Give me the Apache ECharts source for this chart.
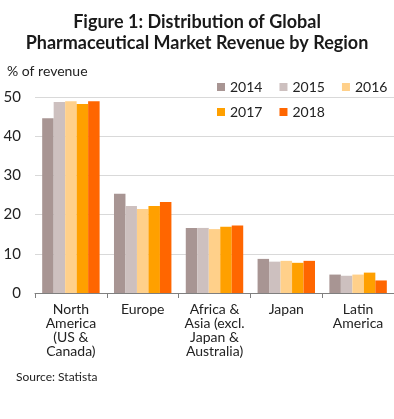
<!DOCTYPE html>
<html><head><meta charset="utf-8">
<script src="https://cdn.jsdelivr.net/npm/echarts@6/dist/echarts.min.js"></script>
<style>html,body{margin:0;padding:0;background:#fff}#c{width:394px;height:419px}</style>
</head><body><div id="c"></div>
<script>
const categories = ['North\nAmerica\n(US &\nCanada)', 'Europe', 'Africa &\nAsia (excl.\nJapan &\nAustralia)', 'Japan', 'Latin\nAmerica'];
const years = ['2014', '2015', '2016', '2017', '2018'];
const v2014 = [44.6, 25.3, 16.6, 8.7, 4.7];
const v2015 = [48.7, 22.2, 16.6, 8.0, 4.4];
const v2016 = [48.9, 21.4, 16.3, 8.2, 4.7];
const v2017 = [48.2, 22.2, 16.9, 7.7, 5.2];
const v2018 = [48.9, 23.2, 17.2, 8.2, 3.2];
const yTicks = [0, 10, 20, 30, 40, 50];

const colors = ['#A89593', '#CDC0BF', '#FFD08A', '#FFA000', '#FF6600'];
const values = [v2014, v2015, v2016, v2017, v2018];
const font = 'Lato';
const chart = echarts.init(document.getElementById('c'));
chart.setOption({
  animation: false,
  textStyle: {fontFamily: font},
  title: {
    text: 'Figure 1: Distribution of Global\nPharmaceutical Market Revenue by Region',
    left: 'center', top: 7,
    textStyle: {fontFamily: font, fontSize: 18, fontWeight: 'bold', color: '#1a1a1a', lineHeight: 21}
  },
  legend: [
    {data: years.slice(0, 3), left: 212, top: 75, itemWidth: 8, itemHeight: 8, itemGap: 17,
     icon: 'rect', textStyle: {fontFamily: font, fontSize: 14, color: '#222'}},
    {data: years.slice(3), left: 212, top: 100, itemWidth: 8, itemHeight: 8, itemGap: 17,
     icon: 'rect', textStyle: {fontFamily: font, fontSize: 14, color: '#222'}}
  ],
  graphic: [
    {type: 'text', left: 7, top: 64, style: {text: '% of revenue', fontFamily: font, fontSize: 14, fill: '#222'}},
    {type: 'text', left: 16, top: 371, style: {text: 'Source: Statista', fontFamily: font, fontSize: 12, fill: '#222'}}
  ],
  grid: {left: 35, right: 0, top: 97, bottom: 126},
  xAxis: {
    type: 'category', data: categories,
    axisLine: {lineStyle: {color: '#7f7f7f'}},
    axisTick: {show: true, interval: 0, length: 5, lineStyle: {color: '#7f7f7f'}},
    axisLabel: {interval: 0, fontFamily: font, fontSize: 14, lineHeight: 14, color: '#222', margin: 9}
  },
  yAxis: {
    type: 'value', min: yTicks[0], max: yTicks[yTicks.length - 1], interval: 10,
    axisLine: {show: false}, axisTick: {show: false},
    axisLabel: {fontFamily: font, fontSize: 15, color: '#222', margin: 14},
    splitLine: {lineStyle: {color: '#d9d9d9'}}
  },
  series: years.map((y, i) => ({
    name: y, type: 'bar', data: values[i], itemStyle: {color: colors[i]},
    barGap: '0%', barCategoryGap: '20%'
  }))
});
</script></body></html>
